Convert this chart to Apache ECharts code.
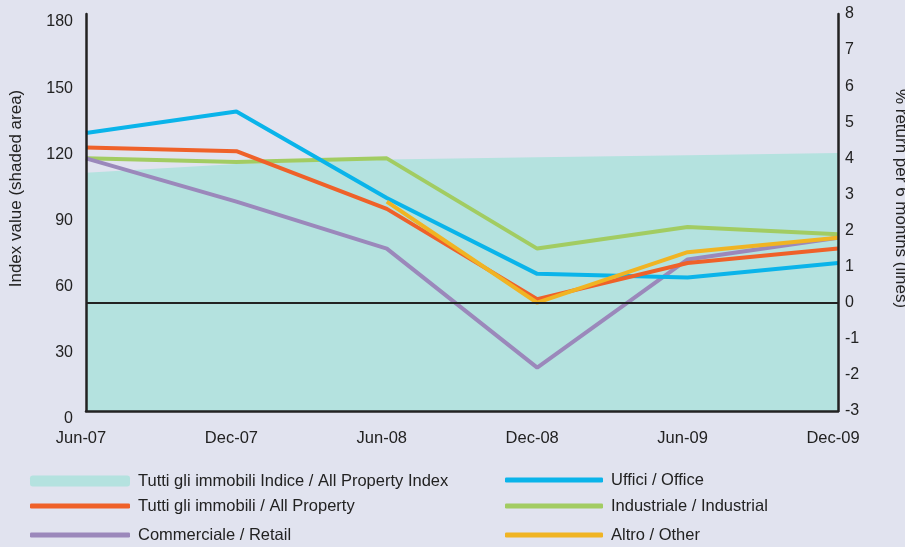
<!DOCTYPE html>
<html>
<head>
<meta charset="utf-8">
<script src="https://cdn.jsdelivr.net/npm/echarts@6/dist/echarts.min.js"></script>
<style>
  html, body { margin: 0; padding: 0; background: #e1e3ef; }
  #chart { width: 905px; height: 547px; }
</style>
</head>
<body>
<div id="chart"></div>
<script>
// periods
var periods = ["Jun-07", "Dec-07", "Jun-08", "Dec-08", "Jun-09", "Dec-09"];
// index value (left axis, shaded area)
var allPropertyIndex = [108, 112, 114, 115, 116, 117];
// % return per 6 months (right axis, lines)
var office = [4.7, 5.3, 2.9, 0.8, 0.7, 1.1];
var allProperty = [4.3, 4.2, 2.6, 0.1, 1.1, 1.5];
var industrial = [4.0, 3.9, 4.0, 1.5, 2.1, 1.9];
var retail = [4.0, 2.8, 1.5, -1.8, 1.2, 1.8];
var other = [null, null, 2.8, 0.0, 1.4, 1.8];

var names = [
  "Tutti gli immobili Indice / All Property Index",
  "Uffici / Office",
  "Tutti gli immobili / All Property",
  "Industriale / Industrial",
  "Commerciale / Retail",
  "Altro / Other"
];
var colors = ["#b4e2df", "#0ab4ea", "#ef6129", "#a2cc62", "#9b88bb", "#f0b423"];

var chart = echarts.init(document.getElementById("chart"));
var font = "'Liberation Sans', Arial, sans-serif";

function lineSeries(i, data) {
  return {
    name: names[i],
    type: "line",
    yAxisIndex: 1,
    data: data,
    color: colors[i],
    showSymbol: false,
    symbol: "none",
    lineStyle: { width: 4, color: colors[i] },
    z: 3
  };
}

// legend: icon left, row centre y, icon width, icon height
var legendPos = [
  [30, 481, 100, 11], [505, 480, 98, 5],
  [30, 506, 100, 5], [505, 506, 98, 5],
  [30, 535, 100, 5], [505, 535, 98, 5]
];
var legends = legendPos.map(function (p, i) {
  return {
    data: [names[i]],
    left: p[0],
    top: p[1] - 10,
    padding: 0,
    itemWidth: p[2],
    itemHeight: p[3],
    itemGap: 0,
    icon: "roundRect",
    itemStyle: { borderRadius: p[3] / 2 },
    selectedMode: false,
    textStyle: {
      fontFamily: font, fontSize: 16.5, color: "#222",
      lineHeight: 20, padding: [0, 0, 0, 3]
    }
  };
});

var option = {
  backgroundColor: "#e1e3ef",
  animation: false,
  grid: { left: 86, right: 67, top: 14, bottom: 136, outerBoundsMode: "none" },
  legend: legends,
  xAxis: {
    type: "category",
    data: periods,
    boundaryGap: false,
    z: 10,
    axisLine: { lineStyle: { color: "#222", width: 2.5 } },
    axisTick: { show: false },
    axisLabel: {
      color: "#222", fontSize: 16.5, fontFamily: font, margin: 19,
      padding: [0, 10, 0, 0]
    },
    splitLine: { show: false }
  },
  yAxis: [
    {
      type: "value",
      min: 0, max: 180, interval: 30,
      position: "left",
      z: 10,
      name: "Index value (shaded area)",
      nameLocation: "middle",
      nameGap: 61,
      nameTextStyle: { color: "#222", fontSize: 17, fontFamily: font, padding: [0, 0, 0, 48] },
      axisLine: { show: true, lineStyle: { color: "#222", width: 2.5 } },
      axisTick: { show: false },
      axisLabel: { color: "#222", fontSize: 16, fontFamily: font, margin: 13, verticalAlign: "top" },
      splitLine: { show: false }
    },
    {
      type: "value",
      min: -3, max: 8, interval: 1,
      position: "right",
      z: 10,
      name: "% return per 6 months (lines)",
      nameLocation: "middle",
      nameRotate: -90,
      nameGap: 54,
      nameTextStyle: { color: "#222", fontSize: 17, fontFamily: font, padding: [0, 28, 0, 0] },
      axisLine: { show: true, lineStyle: { color: "#222", width: 2.5 } },
      axisTick: { show: false },
      axisLabel: { color: "#222", fontSize: 16, fontFamily: font, margin: 7 },
      splitLine: { show: false }
    }
  ],
  series: [
    {
      name: names[0],
      type: "line",
      yAxisIndex: 0,
      data: allPropertyIndex,
      color: colors[0],
      showSymbol: false,
      symbol: "none",
      lineStyle: { width: 0 },
      areaStyle: { color: colors[0], opacity: 1 },
      z: 1
    },
    {
      name: "zero",
      type: "line",
      yAxisIndex: 1,
      data: [],
      z: 2,
      markLine: {
        silent: true,
        symbol: "none",
        label: { show: false },
        lineStyle: { color: "#222", width: 2, type: "solid" },
        data: [{ yAxis: 0 }]
      }
    },
    lineSeries(3, industrial),
    lineSeries(4, retail),
    lineSeries(1, office),
    lineSeries(2, allProperty),
    lineSeries(5, other)
  ]
};
chart.setOption(option);
</script>
</body>
</html>
